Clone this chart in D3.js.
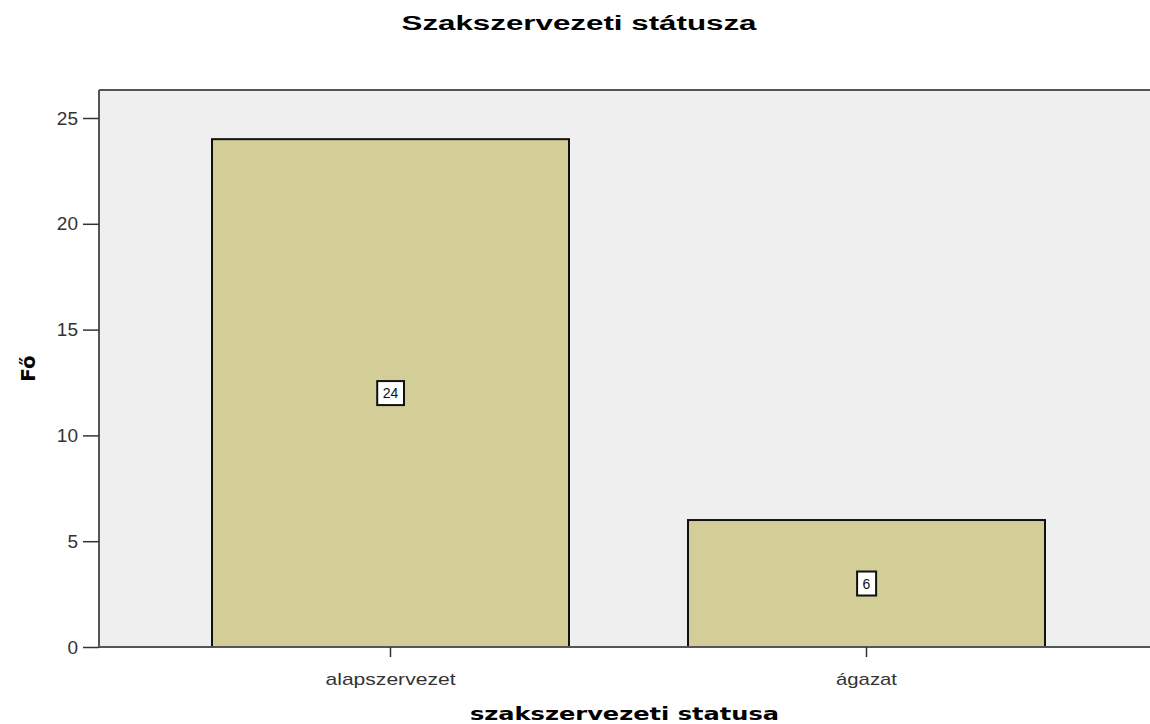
<!DOCTYPE html>
<html><head><meta charset="utf-8">
<script src="https://cdn.jsdelivr.net/npm/d3@7"></script>
<style>body{margin:0;background:#fff}svg{display:block}</style>
</head><body>
<svg id="c" width="1150" height="724"></svg>
<script>
const categories = ["alapszervezet", "ágazat"];
const values = [24, 6];
const yTicks = [0, 5, 10, 15, 20, 25];
const title = "Szakszervezeti státusza";
const xTitle = "szakszervezeti statusa";
const yTitle = "Fő";

const svg = d3.select("#c");
const plotL = 99, plotT = 90, plotR = 1150, plotB = 647;
const y = d3.scaleLinear().domain([0, 25]).range([plotB, 118]);
const x = d3.scaleBand().domain(categories).range([152.5, 1104.5]).paddingInner(0.25).paddingOuter(0.125);

svg.append("rect").attr("x", plotL).attr("y", plotT).attr("width", plotR - plotL).attr("height", plotB - plotT)
  .attr("fill", "#efefef");
svg.append("line").attr("x1", plotL).attr("x2", plotR).attr("y1", plotT).attr("y2", plotT).attr("stroke", "#555").attr("stroke-width", 2);

svg.selectAll("rect.bar").data(values).enter().append("rect").attr("class", "bar")
  .attr("x", (d, i) => x(categories[i]))
  .attr("y", d => y(d))
  .attr("width", x.bandwidth())
  .attr("height", d => plotB - y(d))
  .attr("fill", "#d3ce97").attr("stroke", "#111").attr("stroke-width", 2);

const yAxis = d3.axisLeft(y).tickValues(yTicks).tickSize(16).tickPadding(5);
const ya = svg.append("g").attr("transform", `translate(${plotL},0)`).call(yAxis);
ya.select(".domain").attr("stroke", "#555").attr("stroke-width", 2).attr("d", `M0,${plotT}V${plotB}`);
ya.selectAll(".tick line").attr("stroke", "#333").attr("stroke-width", 1.5);
ya.selectAll("text").attr("font-family", "Liberation Sans, Arial").attr("font-size", 19).attr("fill", "#333");

const labelWidths = { "alapszervezet": 130, "ágazat": 61 };
const xAxis = d3.axisBottom(x).tickSize(10).tickPadding(10);
const xa = svg.append("g").attr("transform", `translate(0,${plotB})`).call(xAxis);
xa.select(".domain").attr("stroke", "#555").attr("stroke-width", 2).attr("d", `M${plotL},0H${plotR}`);
xa.selectAll(".tick line").attr("stroke", "#333").attr("stroke-width", 1.5);
xa.selectAll("text").attr("font-family", "Liberation Sans, Arial").attr("font-size", 17).attr("fill", "#333")
  .attr("dy", null).attr("y", 38)
  .attr("textLength", d => labelWidths[d]).attr("lengthAdjust", "spacingAndGlyphs");

// value labels
const lab = svg.selectAll("g.lab").data(values).enter().append("g").attr("class", "lab")
  .attr("transform", (d, i) => `translate(${x(categories[i]) + x.bandwidth() / 2},${y(d / 2)})`);
lab.append("text").text(d => d).attr("text-anchor", "middle").attr("dy", "0.36em")
  .attr("font-family", "Liberation Sans, Arial").attr("font-size", 14).attr("fill", "#111");
lab.each(function () {
  const g = d3.select(this);
  const b = g.select("text").node().getBBox();
  g.insert("rect", "text").attr("x", b.x - 5.5).attr("y", -12).attr("width", b.width + 11).attr("height", 24)
    .attr("fill", "#fff").attr("stroke", "#111").attr("stroke-width", 2);
});

svg.append("text").attr("x", 579).attr("y", 30).attr("text-anchor", "middle")
  .attr("font-family", "Liberation Sans, Arial").attr("font-weight", "bold").attr("font-size", 20)
  .attr("textLength", 355).attr("lengthAdjust", "spacingAndGlyphs").text(title);
svg.append("text").attr("x", (plotL + plotR) / 2).attr("y", 720).attr("text-anchor", "middle")
  .attr("font-family", "DejaVu Sans").attr("font-weight", "bold").attr("font-size", 18)
  .attr("textLength", 309).attr("lengthAdjust", "spacingAndGlyphs").text(xTitle);
svg.append("text").attr("transform", `translate(35,${(plotT + plotB) / 2}) rotate(-90)`).attr("text-anchor", "middle")
  .attr("font-family", "DejaVu Sans").attr("font-weight", "bold").attr("font-size", 20).text(yTitle);
</script>
</body></html>
